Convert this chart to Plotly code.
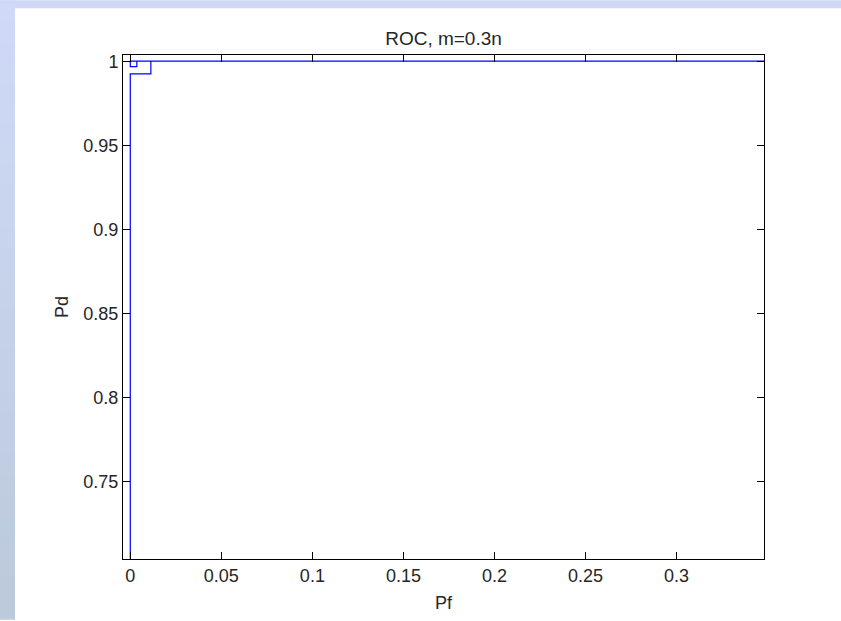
import plotly.graph_objects as go

# ROC curve points (Pf, Pd)
pf = [0.0, 0.0, 0.0113, 0.0113, 0.0036, 0.0036, 0.0, 0.0, 1.0]
pd_ = [0.0, 0.9925, 0.9925, 1.0, 1.0, 0.9968, 0.9968, 1.0, 1.0]

x_ticks = [0, 0.05, 0.1, 0.15, 0.2, 0.25, 0.3]
x_ticktext = ["0", "0.05", "0.1", "0.15", "0.2", "0.25", "0.3"]
y_ticks = [0.75, 0.8, 0.85, 0.9, 0.95, 1.0]
y_ticktext = ["0.75", "0.8", "0.85", "0.9", "0.95", "1"]

W, H = 841, 621
L, R, T, B = 123, 77, 55, 60
fig = go.Figure()
fig.add_trace(go.Scatter(x=pf, y=pd_, mode="lines",
                         line=dict(color="#0000ff", width=1.2),
                         showlegend=False, hoverinfo="skip"))

pw = W - L - R
ph = H - T - B
def px_x(x):
    return (x - L) / pw
def px_y(y):
    return (H - B - y) / ph

shapes = []
n = 30
top_c = (0xd0, 0xda, 0xf8)
bot_c = (0xbc, 0xca, 0xdc)
for i in range(n):
    t = i / (n - 1)
    c = tuple(int(top_c[k] + (bot_c[k] - top_c[k]) * t) for k in range(3))
    ya = i * H / n
    yb = (i + 1) * H / n + 1
    shapes.append(dict(type="rect", xref="paper", yref="paper",
                       x0=px_x(0), x1=px_x(15), y0=px_y(yb), y1=px_y(ya),
                       line_width=0, fillcolor="rgb(%d,%d,%d)" % c, layer="below"))
shapes.append(dict(type="rect", xref="paper", yref="paper",
                   x0=px_x(0), x1=px_x(W), y0=px_y(8), y1=px_y(0),
                   line_width=0, fillcolor="rgb(208,216,248)", layer="below"))

fam = "Liberation Sans, Arial, sans-serif"
tick_font = dict(family=fam, size=18, color="#262626")
lab_font = dict(family=fam, size=18, color="#262626")
title_font = dict(family=fam, size=19, color="#262626")

fig.update_layout(
    width=W, height=H,
    margin=dict(l=L, r=R, t=T, b=B),
    paper_bgcolor="white", plot_bgcolor="white",
    font=tick_font,
    shapes=shapes,
    title=dict(text="ROC, m=0.3n", x=(L + W - R) / 2 / W, xanchor="center",
               y=1 - 38 / H, yanchor="middle", font=title_font),
    xaxis=dict(range=[-0.004, 0.348], tickvals=x_ticks, ticktext=x_ticktext,
               showline=True, linecolor="#000000", linewidth=1, mirror="ticks",
               ticks="inside", ticklen=7, tickcolor="#000000", showgrid=False,
               zeroline=False, title=dict(text="Pf", font=lab_font, standoff=11),
               tickfont=tick_font),
    yaxis=dict(range=[0.704, 1.0037], tickvals=y_ticks, ticktext=y_ticktext,
               showline=True, linecolor="#000000", linewidth=1, mirror="ticks",
               ticks="inside", ticklen=7, tickcolor="#000000", showgrid=False,
               zeroline=False, title=dict(text="Pd", font=lab_font, standoff=10),
               tickfont=tick_font),
)

fig.write_html("out.html", config={"displayModeBar": False},
               post_script="document.body.style.margin='0';document.body.style.padding='0';")
